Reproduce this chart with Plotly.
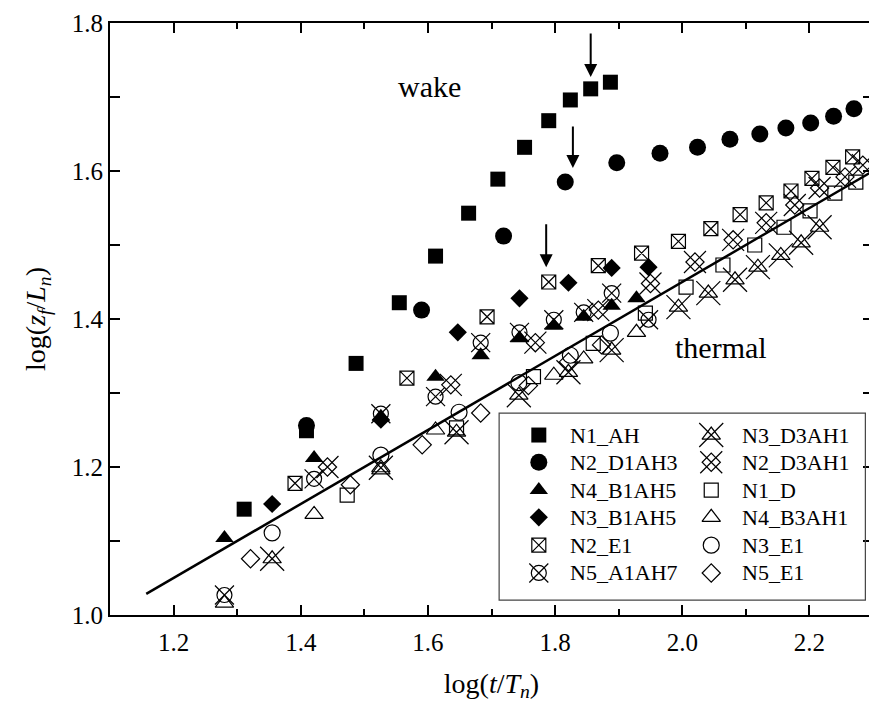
import plotly.graph_objects as go

# ---- data: log(t/T_n) vs log(z_f/L_n) ----
n1_ah_x = [1.311, 1.409, 1.487, 1.555, 1.612, 1.664, 1.710, 1.752, 1.790, 1.824, 1.856, 1.887]
n1_ah_y = [1.143, 1.249, 1.340, 1.422, 1.485, 1.543, 1.589, 1.632, 1.668, 1.696, 1.711, 1.720]

n2_d1ah3_x = [1.409, 1.590, 1.719, 1.816, 1.897, 1.965, 2.024, 2.075, 2.122, 2.163, 2.202, 2.238, 2.270]
n2_d1ah3_y = [1.256, 1.412, 1.512, 1.585, 1.611, 1.624, 1.632, 1.643, 1.650, 1.658, 1.665, 1.674, 1.684]

n4_b1ah5_x = [1.280, 1.421, 1.526, 1.612, 1.683, 1.744, 1.798, 1.845, 1.889, 1.928]
n4_b1ah5_y = [1.104, 1.212, 1.268, 1.322, 1.351, 1.374, 1.391, 1.403, 1.418, 1.428]

n3_b1ah5_x = [1.355, 1.526, 1.647, 1.744, 1.821, 1.889, 1.947]
n3_b1ah5_y = [1.150, 1.264, 1.382, 1.428, 1.449, 1.469, 1.470]

n2_e1_x = [1.391, 1.567, 1.693, 1.790, 1.868, 1.936, 1.994, 2.045, 2.091, 2.132, 2.171, 2.204, 2.237, 2.268]
n2_e1_y = [1.178, 1.320, 1.403, 1.450, 1.472, 1.489, 1.505, 1.522, 1.541, 1.557, 1.573, 1.590, 1.605, 1.619]

n5_a1ah7_x = [1.280, 1.421, 1.526, 1.612, 1.683, 1.744, 1.798, 1.845, 1.889, 1.947]
n5_a1ah7_y = [1.027, 1.184, 1.272, 1.295, 1.368, 1.382, 1.399, 1.409, 1.435, 1.399]

n3_d3ah1_x = [1.355, 1.526, 1.645, 1.743, 1.821, 1.889, 1.994, 2.041, 2.083, 2.119, 2.155, 2.187, 2.216]
n3_d3ah1_y = [1.076, 1.199, 1.247, 1.297, 1.328, 1.358, 1.416, 1.435, 1.453, 1.470, 1.486, 1.503, 1.524]

n2_d3ah1_x = [1.442, 1.636, 1.769, 1.868, 1.950, 2.020, 2.080, 2.132, 2.177, 2.216, 2.256, 2.284]
n2_d3ah1_y = [1.200, 1.311, 1.368, 1.412, 1.448, 1.477, 1.507, 1.530, 1.554, 1.577, 1.592, 1.608]

n1_d_x = [1.473, 1.645, 1.766, 1.860, 1.942, 2.006, 2.064, 2.114, 2.160, 2.201, 2.240, 2.273]
n1_d_y = [1.162, 1.253, 1.322, 1.367, 1.408, 1.443, 1.473, 1.500, 1.524, 1.546, 1.570, 1.585]

n4_b3ah1_x = [1.280, 1.421, 1.526, 1.612, 1.798, 1.845, 1.928]
n4_b3ah1_y = [1.016, 1.136, 1.196, 1.250, 1.324, 1.346, 1.382]

n3_e1_x = [1.355, 1.526, 1.649, 1.743, 1.824, 1.887]
n3_e1_y = [1.111, 1.216, 1.274, 1.314, 1.351, 1.381]

n5_e1_x = [1.321, 1.478, 1.591, 1.683, 1.758, 1.821, 1.873]
n5_e1_y = [1.076, 1.176, 1.230, 1.273, 1.310, 1.342, 1.365]

# thermal scaling line
fit_x = [1.157, 2.30]
fit_y = [1.0285, 1.600]

# transition arrows: (x, y of tip, y of tail)
arrow_x = [1.856, 1.828, 1.786]
arrow_tip_y = [1.727, 1.604, 1.470]
arrow_tail_y = [1.788, 1.662, 1.530]

FONT = "Liberation Serif"
BLACK = "black"

# glyph definitions: list of (plotly symbol, size, line width)
GLYPHS = {
    "N1_AH": [("square", 15, 0)],
    "N2_D1AH3": [("circle", 17, 0)],
    "N4_B1AH5": [("triangle-up", 16, 0)],
    "N3_B1AH5": [("diamond", 14, 0)],
    "N2_E1": [("square-x-open", 14, 1.2)],
    "N5_A1AH7": [("circle-open", 15, 1.2), ("x-thin-open", 19, 1.2)],
    "N3_D3AH1": [("triangle-up-open", 16, 1.2), ("x-thin-open", 24, 1.2)],
    "N2_D3AH1": [("diamond-open", 14, 1.2), ("x-thin-open", 22, 1.2)],
    "N1_D": [("square-open", 14, 1.2)],
    "N4_B3AH1": [("triangle-up-open", 16, 1.2)],
    "N3_E1": [("circle-open", 16, 1.2)],
    "N5_E1": [("diamond-open", 14, 1.2)],
}

series = [
    ("N1_D", n1_d_x, n1_d_y),
    ("N4_B3AH1", n4_b3ah1_x, n4_b3ah1_y),
    ("N3_E1", n3_e1_x, n3_e1_y),
    ("N5_E1", n5_e1_x, n5_e1_y),
    ("N3_D3AH1", n3_d3ah1_x, n3_d3ah1_y),
    ("N2_D3AH1", n2_d3ah1_x, n2_d3ah1_y),
    ("N2_E1", n2_e1_x, n2_e1_y),
    ("N5_A1AH7", n5_a1ah7_x, n5_a1ah7_y),
    ("N3_B1AH5", n3_b1ah5_x, n3_b1ah5_y),
    ("N4_B1AH5", n4_b1ah5_x, n4_b1ah5_y),
    ("N2_D1AH3", n2_d1ah3_x, n2_d1ah3_y),
    ("N1_AH", n1_ah_x, n1_ah_y),
]

legend_left = ["N1_AH", "N2_D1AH3", "N4_B1AH5", "N3_B1AH5", "N2_E1", "N5_A1AH7"]
legend_right = ["N3_D3AH1", "N2_D3AH1", "N1_D", "N4_B3AH1", "N3_E1", "N5_E1"]

fig = go.Figure()

# fitted line
fig.add_trace(go.Scatter(x=fit_x, y=fit_y, mode="lines",
                         line=dict(color=BLACK, width=2.5), showlegend=False))


def add_glyph(name, xs, ys, xaxis="x", yaxis="y"):
    for sym, size, lw in GLYPHS[name]:
        fig.add_trace(go.Scatter(
            x=xs, y=ys, mode="markers", name=name, showlegend=False,
            xaxis=xaxis, yaxis=yaxis, cliponaxis=False,
            marker=dict(symbol=sym, size=size, color=BLACK,
                        line=dict(color=BLACK, width=lw)),
        ))


for name, xs, ys in series:
    add_glyph(name, xs, ys)

# legend box drawn on a helper axis spanning the plot area (0..1)
leg_rows = [0.304, 0.258, 0.211, 0.165, 0.118, 0.071]
col_marker = [0.562, 0.788]
col_text = [0.600, 0.826]
for ci, names in enumerate([legend_left, legend_right]):
    for ri, name in enumerate(names):
        add_glyph(name, [col_marker[ci]], [leg_rows[ri]], xaxis="x2", yaxis="y2")
        fig.add_annotation(x=col_text[ci], y=leg_rows[ri], xref="x2", yref="y2",
                           text=name, showarrow=False, xanchor="left", yanchor="middle",
                           font=dict(family=FONT, size=22, color=BLACK))

fig.add_shape(type="rect", xref="x2", yref="y2", x0=0.510, x1=0.990, y0=0.025, y1=0.341,
              line=dict(color="#444", width=1.2), fillcolor="rgba(0,0,0,0)")

# arrows marking departure from thermal scaling
for ax_, tip, tail in zip(arrow_x, arrow_tip_y, arrow_tail_y):
    fig.add_annotation(x=ax_, y=tip, ax=ax_, ay=tail, xref="x", yref="y",
                       axref="x", ayref="y", showarrow=True, arrowhead=2,
                       arrowsize=1.3, arrowwidth=2, arrowcolor=BLACK, text="")

fig.add_annotation(x=1.602, y=1.714, xref="x", yref="y", text="wake", showarrow=False,
                   font=dict(family=FONT, size=30, color=BLACK))
fig.add_annotation(x=2.061, y=1.362, xref="x", yref="y", text="thermal", showarrow=False,
                   font=dict(family=FONT, size=30, color=BLACK))

axis_common = dict(
    showgrid=False, zeroline=False, showline=True, linecolor=BLACK, linewidth=2,
    mirror="allticks", ticks="inside", tickcolor=BLACK, tickwidth=1.5, ticklen=10,
    tickfont=dict(family=FONT, size=25, color=BLACK),
)

fig.update_layout(
    width=880, height=710,
    margin=dict(l=110, r=5, t=23, b=95),
    paper_bgcolor="white", plot_bgcolor="white",
    showlegend=False,
    xaxis=dict(range=[1.1, 2.3], dtick=0.2, tick0=1.2, tickformat=".1f", ticklabelstandoff=4,
               minor=dict(dtick=0.1, tick0=1.1, ticks="inside", ticklen=6, tickwidth=1.5, tickcolor=BLACK),
               title=dict(text="log(<i>t</i>/<i>T</i><sub><i>n</i></sub>)",
                          font=dict(family=FONT, size=28, color=BLACK), standoff=18),
               **axis_common),
    yaxis=dict(range=[1.0, 1.8], dtick=0.2, tick0=1.0, tickformat=".1f",
               minor=dict(dtick=0.1, tick0=1.0, ticks="inside", ticklen=10, tickwidth=1.5, tickcolor=BLACK),
               title=dict(text="log(<i>z</i><sub><i>f</i></sub>/<i>L</i><sub><i>n</i></sub>)",
                          font=dict(family=FONT, size=28, color=BLACK), standoff=18),
               **axis_common),
    xaxis2=dict(range=[0, 1], overlaying="x", visible=False),
    yaxis2=dict(range=[0, 1], overlaying="y", visible=False),
)

fig.write_html("out.html")
